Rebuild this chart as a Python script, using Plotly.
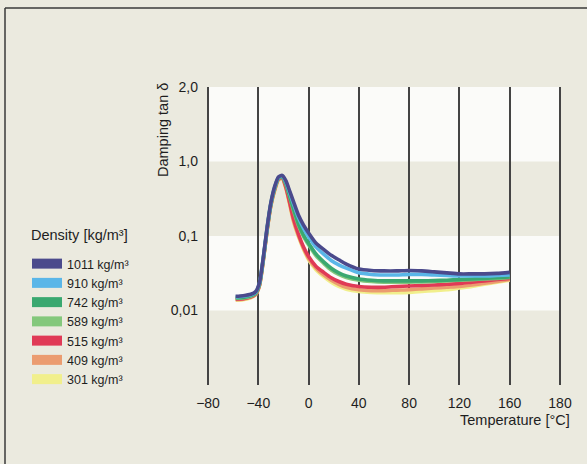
import plotly.graph_objects as go

# ---- data ----
temperature = [-58, -52, -46, -42, -39, -36, -33, -30, -27, -24, -21, -18, -15, -12, -8, -4, 0,
               6, 12, 18, 24, 30, 40, 50, 60, 70, 80, 90, 100, 110, 120, 130, 140, 150, 160]

d1011 = [0.0155, 0.0158, 0.0165, 0.018, 0.024, 0.052, 0.13, 0.28, 0.46, 0.62, 0.65, 0.55, 0.40, 0.29,
         0.19, 0.14, 0.11, 0.08, 0.066, 0.055, 0.048, 0.042, 0.036, 0.0345, 0.034, 0.034, 0.0345,
         0.034, 0.033, 0.032, 0.031, 0.031, 0.031, 0.0315, 0.0325]
d910 = [0.0152, 0.0155, 0.0162, 0.0177, 0.0235, 0.051, 0.128, 0.275, 0.45, 0.61, 0.64, 0.53, 0.38, 0.27,
        0.175, 0.127, 0.098, 0.071, 0.057, 0.047, 0.041, 0.037, 0.032, 0.0305, 0.030, 0.030, 0.0305,
        0.0305, 0.030, 0.0295, 0.029, 0.029, 0.029, 0.0295, 0.030]
d742 = [0.0148, 0.015, 0.0158, 0.0173, 0.023, 0.05, 0.125, 0.27, 0.44, 0.60, 0.63, 0.50, 0.34, 0.23,
        0.145, 0.103, 0.08, 0.057, 0.045, 0.037, 0.032, 0.029, 0.0265, 0.0255, 0.025, 0.025, 0.025,
        0.025, 0.0252, 0.0255, 0.026, 0.0265, 0.027, 0.0275, 0.0283]
d589 = [0.0145, 0.0147, 0.0155, 0.017, 0.0225, 0.049, 0.123, 0.265, 0.43, 0.59, 0.62, 0.49, 0.33, 0.22,
        0.138, 0.098, 0.076, 0.054, 0.043, 0.035, 0.0305, 0.0278, 0.0255, 0.0245, 0.024, 0.024, 0.024,
        0.0242, 0.0245, 0.025, 0.0255, 0.026, 0.0265, 0.027, 0.0277]
d515 = [0.0142, 0.0144, 0.0152, 0.0167, 0.022, 0.048, 0.12, 0.26, 0.42, 0.58, 0.61, 0.45, 0.28, 0.17,
        0.105, 0.071, 0.053, 0.039, 0.0325, 0.0275, 0.0245, 0.0225, 0.021, 0.0205, 0.0205, 0.021, 0.0213,
        0.0217, 0.022, 0.0225, 0.023, 0.024, 0.025, 0.026, 0.027]
d409 = [0.014, 0.0142, 0.015, 0.0165, 0.0218, 0.047, 0.118, 0.255, 0.41, 0.57, 0.60, 0.44, 0.27, 0.16,
        0.10, 0.068, 0.05, 0.037, 0.03, 0.0255, 0.0225, 0.0205, 0.019, 0.0185, 0.0185, 0.0188, 0.019,
        0.0195, 0.02, 0.0205, 0.021, 0.022, 0.0232, 0.0245, 0.026]
d301 = [0.0137, 0.014, 0.0148, 0.0163, 0.0215, 0.046, 0.116, 0.25, 0.40, 0.56, 0.59, 0.43, 0.26, 0.155,
        0.097, 0.066, 0.048, 0.035, 0.0285, 0.024, 0.021, 0.0193, 0.018, 0.0175, 0.0173, 0.0173, 0.0175,
        0.018, 0.0185, 0.019, 0.02, 0.021, 0.0225, 0.024, 0.0255]

series_names = ["1011 kg/m³", "910 kg/m³", "742 kg/m³", "589 kg/m³", "515 kg/m³", "409 kg/m³", "301 kg/m³"]
series_values = [d1011, d910, d742, d589, d515, d409, d301]
series_colors = ["#4b4a8c", "#5ab6e8", "#3aa870", "#84c87c", "#e03a56", "#eb9c70", "#f1ef8c"]

x_tickvals = [-80, -40, 0, 40, 80, 120, 160, 200]
x_ticktext = ["\u221280", "\u221240", "0", "40", "80", "120", "160", "180"]
y_tickvals = [0.01, 0.1, 1, 10]
y_ticktext = ["0,01", "0,1", "1,0", "2,0"]

# ---- layout geometry ----
W, H = 587, 464
ML, MR, MT, MB = 205, 24, 87, 79
PW, PH = W - ML - MR, H - MT - MB


def px_x(p):
    return (p - ML) / PW


def px_y(p):
    return (H - MB - p) / PH


BG = "#ebeadf"
FONT = "Liberation Sans, Arial, sans-serif"
TXT = "#1e1e1e"

fig = go.Figure()

# curves (drawn lowest first, 1011 on top)
for name, vals, col in reversed(list(zip(series_names, series_values, series_colors))):
    fig.add_trace(go.Scatter(x=temperature, y=vals, mode="lines", name=name,
                             line=dict(color=col, width=3.6, shape="spline", smoothing=0.6),
                             showlegend=False, hoverinfo="skip"))

# legend entries
for name, col in zip(series_names, series_colors):
    fig.add_trace(go.Scatter(x=[None], y=[None], mode="lines", name=name,
                             line=dict(color=col, width=12), showlegend=True))

shapes = [
    dict(type="rect", xref="x", yref="paper", x0=-80, x1=200, y0=0.75, y1=1.0,
         fillcolor="#fbfbf9", line=dict(width=0), layer="below"),
    dict(type="rect", xref="x", yref="paper", x0=-80, x1=200, y0=0.25, y1=0.5,
         fillcolor="#fbfbf9", line=dict(width=0), layer="below"),
    # frame
    dict(type="line", xref="paper", yref="paper", x0=px_x(5), x1=px_x(590), y0=px_y(8), y1=px_y(8),
         line=dict(color="#3a3a3a", width=1.5)),
    dict(type="line", xref="paper", yref="paper", x0=px_x(5), x1=px_x(5), y0=px_y(8), y1=px_y(470),
         line=dict(color="#3a3a3a", width=1.5)),
]

annotations = [
    dict(text="Damping tan \u03b4", xref="paper", yref="paper", x=px_x(163), y=px_y(130),
         textangle=-90, showarrow=False, xanchor="center", yanchor="middle",
         font=dict(family=FONT, size=14.5, color=TXT)),
    dict(text="Temperature [°C]", xref="paper", yref="paper", x=px_x(572), y=px_y(420),
         showarrow=False, xanchor="right", yanchor="middle",
         font=dict(family=FONT, size=14.5, color=TXT)),
    dict(text="Density [kg/m³]", xref="paper", yref="paper", x=px_x(29), y=px_y(235),
         showarrow=False, xanchor="left", yanchor="middle",
         font=dict(family=FONT, size=14.5, color=TXT)),
]

fig.update_layout(
    width=W, height=H,
    margin=dict(l=ML, r=MR, t=MT, b=MB),
    paper_bgcolor=BG, plot_bgcolor=BG,
    font=dict(family=FONT, size=14, color=TXT),
    shapes=shapes, annotations=annotations,
    legend=dict(xref="container", yref="container", x=27 / W, y=1 - 249 / H,
                xanchor="left", yanchor="top", bgcolor="rgba(0,0,0,0)",
                font=dict(family=FONT, size=12.5, color=TXT), itemwidth=30,
                traceorder="normal", tracegroupgap=0),
    xaxis=dict(range=[-82.4, 202.4], tickmode="array", tickvals=x_tickvals, ticktext=x_ticktext,
               showgrid=True, gridcolor="#444", gridwidth=1.5, zeroline=False, showline=False,
               ticks="", ticklabelstandoff=8, tickfont=dict(size=14)),
    yaxis=dict(type="log", range=[-3, 1], tickmode="array", tickvals=y_tickvals, ticktext=y_ticktext,
               showgrid=False, zeroline=False, showline=False, ticks="", ticklabelstandoff=6,
               tickfont=dict(size=14)),
)

fig.write_html("out.html")
